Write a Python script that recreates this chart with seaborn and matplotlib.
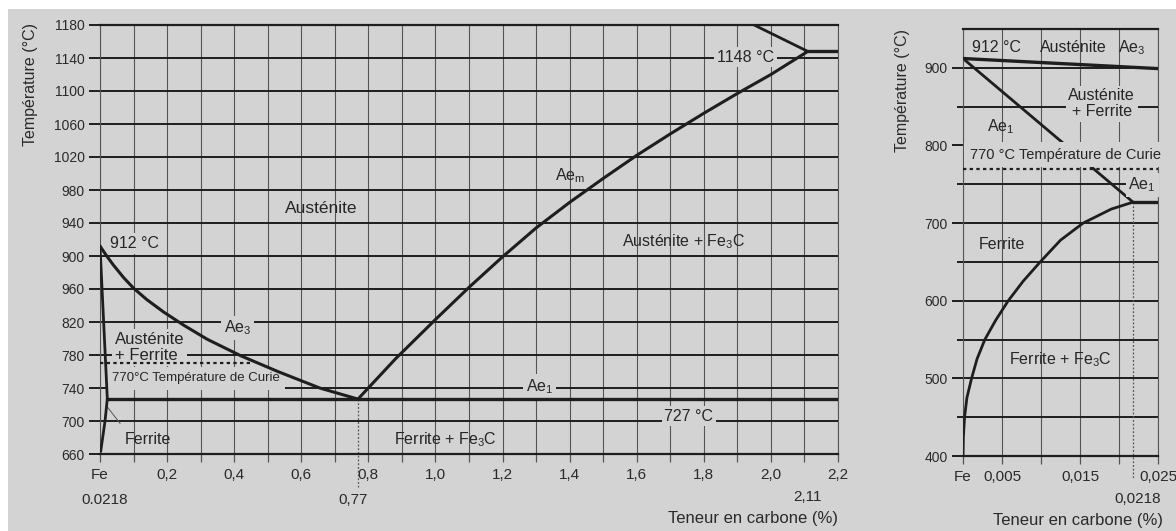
import matplotlib
matplotlib.use("Agg")
import matplotlib.pyplot as plt
from matplotlib.patches import Rectangle
import numpy as np
import seaborn as sns

# Fe-C diagram (steel side): wt% C / degC
a3_c = [0, 0.02, 0.04, 0.07, 0.1, 0.14, 0.19, 0.25, 0.32, 0.42, 0.53, 0.655, 0.765]
a3_t = [912, 900, 889, 874, 861, 847, 832, 816, 799, 779, 760, 740, 727]
acm_c = [0.77, 0.88, 1.0, 1.1, 1.2, 1.3, 1.4, 1.5, 1.6, 1.7, 1.8, 1.9, 2.0, 2.11]
acm_t = [727, 775, 823, 862, 899, 934, 965, 994, 1022, 1048, 1073, 1097, 1120, 1148]
ferr_c = [0, 0.0218]
ferr_t = [912, 727]
solv_c = [0.0218, 0.015, 0.008, 0.002]
solv_t = [727, 700, 680, 663]
eutectoid_c = [0.0218, 2.2]
eutectoid_t = [727, 727]
eutectic_c = [2.11, 2.2]
eutectic_t = [1148, 1148]
liq_c = [1.95, 2.11]
liq_t = [1180, 1148]
curie_c = [0, 0.457]
curie_t = [770, 770]

main_yticks = [660, 700, 740, 780, 820, 860, 900, 940, 980, 1020, 1060, 1100, 1140, 1180]
main_ylabels = ["660", "700", "740", "780", "820", "960", "900", "940", "980",
                "1020", "1060", "1100", "1140", "1180"]
main_xticks = [0, 0.2, 0.4, 0.6, 0.8, 1.0, 1.2, 1.4, 1.6, 1.8, 2.0, 2.2]
main_xlabels = ["Fe", "0,2", "0,4", "0,6", "0,8", "1,0", "1,2", "1,4", "1,6", "1,8", "2,0", "2,2"]

# enlarged low-carbon corner
z_a3_c = [0, 0.025]
z_a3_t = [912, 899]
z_ae1_c = [0, 0.0218]
z_ae1_t = [912, 727]
z_solv_c = [0.0218, 0.019, 0.0154, 0.0125, 0.0099, 0.0077, 0.0058, 0.0042,
            0.0028, 0.0018, 0.0011, 0.0005, 0.0002, 0.00005, 0]
z_solv_t = [727, 718, 700, 678, 650, 625, 600, 575, 550, 525, 500, 475, 450, 425, 400]
z_eut_c = [0.0218, 0.025]
z_eut_t = [727, 727]
z_curie_c = [0, 0.025]
z_curie_t = [770, 770]

zoom_yticks = [400, 500, 600, 700, 800, 900]
zoom_xticks = [0, 0.005, 0.015, 0.025]
zoom_xlabels = ["Fe", "0,005", "0,015", "0,025"]

BG = "#d3d3d3"
INK = "#1e1e1e"
GRID = "#555555"
TXT = "#2a2a2a"

sns.set_theme(style="ticks")
plt.rcParams["font.family"] = ["Liberation Sans", "DejaVu Sans"]
plt.rcParams["mathtext.default"] = "regular"
plt.rcParams["mathtext.fontset"] = "custom"
plt.rcParams["mathtext.rm"] = "Liberation Sans"

W, H = 1176, 531
fig = plt.figure(figsize=(W / 100, H / 100), dpi=100)
fig.patch.set_facecolor("white")
fig.patches.append(Rectangle((8 / W, 0), 1, 1 - 9 / H, transform=fig.transFigure,
                             facecolor=BG, edgecolor="none", zorder=-5))

ax = fig.add_axes([100 / W, 1 - 454 / H, 738 / W, 429 / H])
az = fig.add_axes([963 / W, 1 - 456 / H, 195 / W, 427 / H])

box = dict(facecolor=BG, edgecolor="none", pad=2)
wide_box = dict(facecolor=BG, edgecolor="none", pad=4)
LBL = 11.5


def style_axes(a):
    a.set_facecolor(BG)
    a.set_axisbelow(True)
    for side in ["top", "bottom"]:
        a.spines[side].set_linewidth(1.6)
        a.spines[side].set_color(INK)
    for side in ["left", "right"]:
        a.spines[side].set_linewidth(0.8)
        a.spines[side].set_color(GRID)
    a.grid(axis="x", which="both", color=GRID, lw=0.8)
    a.grid(axis="y", which="both", color=INK, lw=1.4)
    a.tick_params(axis="y", which="major", length=8, width=1.4, color=INK,
                  labelsize=10, labelcolor=TXT, pad=3)
    a.tick_params(axis="y", which="minor", length=4, width=1.4, color=INK)
    a.tick_params(axis="x", which="both", length=6, width=0.9, color=GRID,
                  labelsize=11, labelcolor=TXT, pad=4)


def curve(a, x, y, lw=2.2, ls="-", z=4):
    sns.lineplot(x=x, y=y, ax=a, color=INK, lw=lw, linestyle=ls, sort=False,
                 estimator=None, legend=False, zorder=z)


# ---- main diagram
style_axes(ax)
curve(ax, a3_c, a3_t)
curve(ax, acm_c, acm_t)
curve(ax, ferr_c, ferr_t, lw=2.0)
curve(ax, solv_c, solv_t, lw=2.0)
curve(ax, eutectoid_c, eutectoid_t, lw=2.4)
curve(ax, eutectic_c, eutectic_t, lw=2.4)
curve(ax, liq_c, liq_t, lw=2.0)
curve(ax, curie_c, curie_t, lw=1.6, ls=(0, (1.5, 1.5)), z=5)
ax.plot([0.77, 0.77], [727, 620], color=GRID, lw=0.9, ls=(0, (1.5, 1.5)), clip_on=False)
ax.plot([0.06, 0.02], [697, 718], color=GRID, lw=0.7)

ax.set_xlim(0, 2.2)
ax.set_ylim(660, 1180)
ax.set_xticks(main_xticks)
ax.set_xticklabels(main_xlabels)
ax.set_xticks(np.arange(0.1, 2.2, 0.2), minor=True)
ax.set_yticks(main_yticks)
ax.set_yticklabels(main_ylabels)
ax.set_xlabel("")
ax.set_ylabel("")

tr = ax.get_xaxis_transform()
ax.text(0.015, -0.108, "0.0218", transform=tr, ha="center", va="center", fontsize=11, color=TXT)
ax.text(0.755, -0.108, "0,77", transform=tr, ha="center", va="center", fontsize=11, color=TXT)
ax.text(2.11, -0.1, "2,11", transform=tr, ha="center", va="center", fontsize=11, color=TXT)
ax.text(2.2, -0.15, "Teneur en carbone (%)", transform=tr, ha="right", va="center",
        fontsize=12, color=TXT)

ax.text(0.03, 915, "912 °C", fontsize=LBL, ha="left", va="center", bbox=box)
ax.text(0.66, 958, "Austénite", fontsize=12.5, ha="center", va="center")
ax.text(1.40, 998, "Ae$_m$", fontsize=LBL, ha="center", va="center")
ax.text(1.74, 917, "Austénite + Fe$_3$C", fontsize=LBL, ha="center", va="center")
ax.text(1.925, 1141, "1148 °C", fontsize=LBL, ha="center", va="center", bbox=box)
ax.text(0.41, 813, "Ae$_3$", fontsize=LBL, ha="center", va="center", bbox=box)
ax.text(0.045, 789, "Austénite\n+ Ferrite", fontsize=12, ha="left", va="center",
        linespacing=1.1, bbox=box)
ax.text(0.035, 752, "770°C Température de Curie", fontsize=9.5, ha="left", va="center",
        bbox=wide_box, zorder=3)
ax.text(1.31, 742, "Ae$_1$", fontsize=LBL, ha="center", va="center", bbox=box)
ax.text(1.755, 706, "727 °C", fontsize=LBL, ha="center", va="center", bbox=box)
ax.text(0.075, 677, "Ferrite", fontsize=LBL, ha="left", va="center")
ax.text(1.03, 677, "Ferrite + Fe$_3$C", fontsize=LBL, ha="center", va="center")

fig.text(30 / W, 1 - 85 / H, "Température (°C)", rotation=90, ha="center", va="center",
         fontsize=11.5, color=TXT)

# ---- enlarged corner
style_axes(az)
curve(az, z_a3_c, z_a3_t, lw=2.4)
curve(az, z_ae1_c, z_ae1_t, lw=2.0, z=2)
curve(az, z_solv_c, z_solv_t, lw=2.0)
curve(az, z_eut_c, z_eut_t, lw=2.4)
curve(az, z_curie_c, z_curie_t, lw=1.6, ls=(0, (1.5, 1.5)), z=5)
az.plot([0.0218, 0.0218], [727, 372], color=GRID, lw=0.9, ls=(0, (1.5, 1.5)), clip_on=False)

az.set_xlim(0, 0.025)
az.set_ylim(400, 950)
az.set_xticks(zoom_xticks)
az.set_xticklabels(zoom_xlabels)
az.set_xticks([0.01, 0.02], minor=True)
az.set_yticks(zoom_yticks)
az.set_yticks([450, 550, 650, 750, 850], minor=True)
az.set_xlabel("")
az.set_ylabel("")

trz = az.get_xaxis_transform()
az.text(0.0224, -0.1, "0,0218", transform=trz, ha="center", va="center", fontsize=11, color=TXT)
az.text(0.0148, -0.15, "Teneur en carbone (%)", transform=trz, ha="center", va="center",
        fontsize=12, color=TXT)

az.text(0.0012, 926, "912 °C", fontsize=LBL, ha="left", va="center")
az.text(0.0099, 926, "Austénite", fontsize=LBL, ha="left", va="center")
az.text(0.0199, 926, "Ae$_3$", fontsize=LBL, ha="left", va="center")
az.text(0.0178, 854, "Austénite\n+ Ferrite", fontsize=LBL, ha="center", va="center",
        linespacing=1.05, bbox=box)
az.text(0.0048, 824, "Ae$_1$", fontsize=LBL, ha="center", va="center")
az.text(0.0009, 788, "770 °C Température de Curie", fontsize=10.5, ha="left", va="center",
        bbox=wide_box, zorder=3)
az.text(0.0212, 749, "Ae$_1$", fontsize=LBL, ha="left", va="center", bbox=box)
az.text(0.002, 672, "Ferrite", fontsize=LBL, ha="left", va="center")
az.text(0.0125, 524, "Ferrite + Fe$_3$C", fontsize=LBL, ha="center", va="center")

fig.text(903 / W, 1 - 90 / H, "Température (°C)", rotation=90, ha="center", va="center",
         fontsize=11.5, color=TXT)

fig.savefig("out.png", dpi=100, facecolor=fig.get_facecolor())
